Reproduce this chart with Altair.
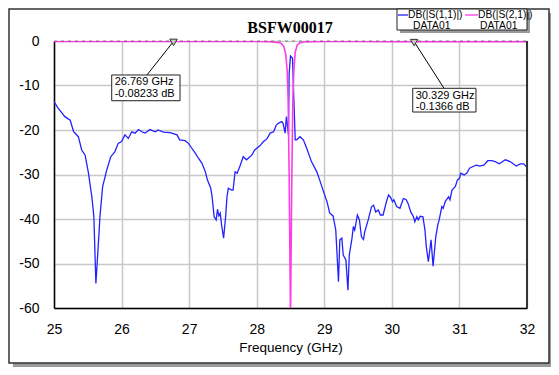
import altair as alt
import pandas as pd

# ---------------- data ----------------
s11_freq = [25.00, 25.06, 25.12, 25.16, 25.24, 25.29, 25.36, 25.41, 25.46, 25.51, 25.56, 25.59, 25.62,
            25.66, 25.68, 25.72, 25.78, 25.84, 25.90, 25.95, 26.00, 26.05, 26.10, 26.15, 26.20, 26.25,
            26.30, 26.35, 26.42, 26.50, 26.54, 26.62, 26.72, 26.82, 26.86, 26.94, 26.99, 27.04, 27.09,
            27.14, 27.19, 27.24, 27.27, 27.32, 27.34, 27.37, 27.40, 27.42, 27.44, 27.46, 27.48, 27.51,
            27.54, 27.56, 27.58, 27.63, 27.65, 27.68, 27.71, 27.75, 27.80, 27.85, 27.93, 27.97, 28.05,
            28.10, 28.15, 28.20, 28.25, 28.29, 28.32, 28.37, 28.39, 28.42, 28.44, 28.47, 28.48, 28.50,
            28.53, 28.54, 28.57, 28.59, 28.64, 28.69, 28.74, 28.81, 28.89, 28.94, 28.99, 29.04, 29.08,
            29.13, 29.17, 29.21, 29.23, 29.26, 29.28, 29.32, 29.35, 29.37, 29.41, 29.43, 29.45, 29.49,
            29.52, 29.55, 29.58, 29.60, 29.65, 29.70, 29.73, 29.76, 29.80, 29.83, 29.87, 29.92, 29.95,
            29.98, 30.01, 30.03, 30.07, 30.12, 30.17, 30.21, 30.24, 30.28, 30.32, 30.34, 30.37, 30.39,
            30.42, 30.46, 30.49, 30.51, 30.54, 30.58, 30.61, 30.65, 30.68, 30.70, 30.74, 30.76, 30.79,
            30.84, 30.86, 30.89, 30.94, 30.97, 31.00, 31.02, 31.07, 31.11, 31.15, 31.20, 31.25, 31.30,
            31.36, 31.42, 31.48, 31.53, 31.59, 31.68, 31.75, 31.84, 31.90, 31.95, 32.00]
s11_db = [-13.6, -15.1, -16.2, -17.0, -17.8, -20.4, -21.5, -24.5, -25.6, -29.7, -35.0, -39.5, -54.5,
          -44.7, -39.5, -32.7, -29.0, -26.0, -24.9, -23.0, -22.6, -21.1, -21.9, -20.4, -20.7, -19.9,
          -20.4, -20.7, -19.9, -20.4, -20.0, -20.5, -20.6, -21.1, -22.2, -22.4, -23.0, -24.1, -25.2,
          -26.4, -27.5, -29.4, -31.2, -33.1, -35.0, -39.5, -40.2, -37.8, -39.3, -38.7, -41.3, -44.3,
          -39.5, -35.0, -33.1, -33.5, -33.5, -29.4, -29.7, -28.2, -26.0, -26.7, -25.6, -24.5, -23.5,
          -22.6, -22.0, -20.7, -20.4, -18.9, -18.5, -18.1, -18.5, -20.7, -17.0, -21.1, -7.3, -3.4,
          -3.9, -8.8, -22.2, -22.2, -21.5, -22.2, -24.1, -27.1, -29.4, -31.6, -33.9, -36.1, -38.7,
          -39.3, -42.5, -54.1, -44.7, -44.3, -48.1, -49.2, -56.0, -48.1, -44.3, -41.7, -42.5, -39.1,
          -40.2, -44.0, -44.6, -42.8, -40.2, -37.2, -36.9, -38.4, -38.0, -39.1, -39.1, -36.1, -34.6,
          -35.1, -36.1, -35.7, -37.2, -37.6, -35.4, -35.6, -36.5, -38.4, -39.5, -40.6, -39.5, -40.2,
          -39.4, -39.5, -42.5, -46.2, -49.6, -44.7, -50.6, -44.0, -41.3, -40.2, -37.2, -37.6, -36.1,
          -35.0, -35.7, -33.5, -32.7, -31.2, -30.9, -29.7, -30.1, -29.7, -28.6, -28.2, -27.9, -28.1,
          -27.9, -26.9, -26.9, -27.1, -27.6, -26.7, -27.1, -28.1, -27.6, -27.6, -28.4]

s21_freq = [25.0, 25.5, 26.0, 26.5, 26.769, 27.0, 27.5, 28.0, 28.2, 28.3, 28.36, 28.4, 28.43, 28.45,
            28.465, 28.48, 28.5, 28.52, 28.535, 28.55, 28.57, 28.6, 28.64, 28.7, 28.8, 29.0, 29.5,
            30.0, 30.329, 30.5, 31.0, 31.5, 32.0]
s21_db = [-0.1, -0.09, -0.08, -0.08, -0.08233, -0.09, -0.1, -0.12, -0.18, -0.3, -0.5, -1.2, -3.0, -6.5,
          -13.0, -30.0, -62.0, -30.0, -13.0, -6.5, -2.5, -0.9, -0.4, -0.22, -0.15, -0.12, -0.12,
          -0.13, -0.1366, -0.13, -0.13, -0.14, -0.15]

x_ticks = [25, 26, 27, 28, 29, 30, 31, 32]
y_ticks = [0, -10, -20, -30, -40, -50, -60]

marker_freq = [26.769, 30.329]
marker_db = [-0.08233, -0.1366]
marker_text = ["26.769 GHz\n-0.08233 dB", "30.329 GHz\n-0.1366 dB"]
box_x1 = [25.854, 30.309]
box_x2 = [26.865, 31.245]
box_y1 = [-7.64, -10.63]
box_y2 = [-13.42, -15.96]
lead_x = [26.376, 30.772]
lead_y = [-7.64, -10.63]

series_names = ["DB(|S(1,1)|)", "DB(|S(2,1)|)"]
series_sub = ["DATA01", "DATA01"]
series_colors = ["#2222ff", "#ff3de6"]
chart_title = "BSFW00017"

# ---------------- tables ----------------
s11 = pd.DataFrame({"f": s11_freq, "db": s11_db})
s21 = pd.DataFrame({"f": s21_freq, "db": s21_db})
ann = pd.DataFrame({
    "f": marker_freq, "db": marker_db, "txt": marker_text,
    "x1": box_x1, "x2": box_x2, "y1": box_y1, "y2": box_y2,
    "lx": lead_x, "ly": lead_y,
})
one = alt.Data(values=[{}])

W, H = 473, 267
FONT = "Liberation Sans"

xs = alt.Scale(domain=[25, 32], nice=False, zero=False)
ys = alt.Scale(domain=[-60, 0], nice=False, zero=False)

xaxis = alt.Axis(values=x_ticks, labelExpr="datum.value + ''", title="Frequency (GHz)",
                 labelFont=FONT, labelFontSize=14, labelColor="black", labelPadding=14,
                 titleFont=FONT, titleFontSize=13.5, titleFontWeight="normal", titleColor="black",
                 titlePadding=4, tickSize=0, domainColor="black", domainWidth=1.5,
                 gridColor="#c8c8c8", gridWidth=1.5, labelFlush=False)
yaxis = alt.Axis(values=y_ticks, labelExpr="datum.value + ''", title=None,
                 labelFont=FONT, labelFontSize=14, labelColor="black", labelPadding=15,
                 tickSize=0, domainColor="black", domainWidth=1.5,
                 gridColor="#c8c8c8", gridWidth=1.5, labelFlush=False)


def X(field):
    return alt.X(field, type="quantitative", scale=xs, axis=xaxis)


def Y(field):
    return alt.Y(field, type="quantitative", scale=ys, axis=yaxis)


# outer frame shadow + frame
shadow_r = alt.Chart(one).mark_rect(color="#9a9a9a").encode(
    x=alt.value(495), x2=alt.value(499), y=alt.value(-28), y2=alt.value(326))
shadow_b = alt.Chart(one).mark_rect(color="#9a9a9a").encode(
    x=alt.value(-41), x2=alt.value(499), y=alt.value(322), y2=alt.value(326))
frame = alt.Chart(one).mark_rect(fill=None, stroke="#333333", strokeWidth=1.5).encode(
    x=alt.value(-45), x2=alt.value(495), y=alt.value(-32), y2=alt.value(322))

blue = alt.Chart(s11).mark_line(color=series_colors[0], strokeWidth=1.3, clip=True).encode(
    x=X("f"), y=Y("db"))
pink = alt.Chart(s21).mark_line(color=series_colors[1], strokeWidth=1.6, clip=True).encode(
    x=X("f"), y=Y("db"))
top_dash = alt.Chart(one).mark_rule(color="#444444", strokeDash=[3, 4], strokeWidth=1, opacity=0.6).encode(
    x=alt.value(0), x2=alt.value(W), y=alt.value(0))
right_border = alt.Chart(one).mark_rule(color="#333333", strokeWidth=2).encode(
    x=alt.value(W), y=alt.value(0), y2=alt.value(H))

lead = alt.Chart(ann).mark_rule(color="black", strokeWidth=1).encode(
    x=X("f"), y=Y("db"), x2="lx", y2="ly")
markers = alt.Chart(ann).mark_point(shape="triangle-down", filled=True, fill="#c8c8c8",
                                    stroke="#333333", strokeWidth=1, size=55, opacity=1,
                                    yOffset=1).encode(x=X("f"), y=Y("db"))
box_shadow = alt.Chart(ann).mark_rect(color="#9a9a9a", xOffset=3, yOffset=3).encode(
    x=X("x1"), x2="x2", y=Y("y1"), y2="y2")
box = alt.Chart(ann).mark_rect(fill="white", stroke="#222222", strokeWidth=1).encode(
    x=X("x1"), x2="x2", y=Y("y1"), y2="y2")
box_text = alt.Chart(ann).mark_text(align="left", baseline="top", font=FONT, fontSize=11,
                                    lineBreak="\n", lineHeight=11.5, dx=3, dy=1.5,
                                    color="black").encode(
    x=X("x1"), y=Y("y1"), text="txt:N")

# legend (drawn by hand)
LFS = 10.3
leg_shadow = alt.Chart(one).mark_rect(color="#9a9a9a").encode(
    x=alt.value(346), x2=alt.value(476), y=alt.value(-29), y2=alt.value(-8))
leg_box = alt.Chart(one).mark_rect(fill="white", stroke="#222222", strokeWidth=1).encode(
    x=alt.value(343), x2=alt.value(473), y=alt.value(-32), y2=alt.value(-11))
leg_line1 = alt.Chart(one).mark_rule(color=series_colors[0], strokeWidth=1.3).encode(
    x=alt.value(344), x2=alt.value(354), y=alt.value(-26))
leg_line2 = alt.Chart(one).mark_rule(color=series_colors[1], strokeWidth=1.3).encode(
    x=alt.value(411), x2=alt.value(424), y=alt.value(-26))
leg_t1 = alt.Chart(one).mark_text(align="left", baseline="middle", font=FONT, fontSize=LFS,
                                  color="black", text=series_names[0]).encode(
    x=alt.value(354), y=alt.value(-26))
leg_t2 = alt.Chart(one).mark_text(align="left", baseline="middle", font=FONT, fontSize=LFS,
                                  color="black", text=series_names[1]).encode(
    x=alt.value(424), y=alt.value(-26))
leg_s1 = alt.Chart(one).mark_text(align="left", baseline="middle", font=FONT, fontSize=LFS,
                                  color="black", text=series_sub[0]).encode(
    x=alt.value(359), y=alt.value(-15))
leg_s2 = alt.Chart(one).mark_text(align="left", baseline="middle", font=FONT, fontSize=LFS,
                                  color="black", text=series_sub[1]).encode(
    x=alt.value(426), y=alt.value(-15))

title = alt.Chart(one).mark_text(align="center", baseline="middle", font="Liberation Serif",
                                 fontSize=16, fontWeight="bold", color="black",
                                 text=chart_title).encode(
    x=alt.value(236), y=alt.value(-13))

chart = alt.layer(
    shadow_r, shadow_b, frame,
    blue, pink, top_dash, right_border,
    lead, markers, box_shadow, box, box_text,
    leg_shadow, leg_box, leg_line1, leg_line2, leg_t1, leg_t2, leg_s1, leg_s2,
    title,
).properties(
    width=W, height=H,
    autosize=alt.AutoSizeParams(type="none"),
    padding={"left": 46, "top": 33, "right": 24, "bottom": 59},
).configure_view(strokeWidth=0).configure(background="white")

chart.save("out.html", embed_options={"renderer": "svg", "actions": False})
